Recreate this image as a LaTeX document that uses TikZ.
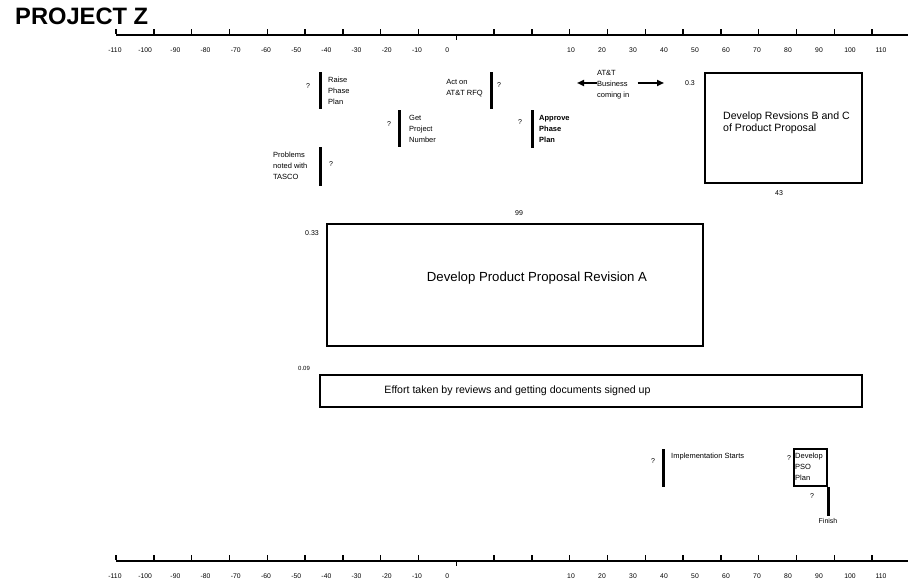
\documentclass[tikz,border=0pt]{standalone}
\usepackage{fontspec}
\setmainfont{Liberation Sans}
\usetikzlibrary{arrows.meta}

\begin{document}
\begin{tikzpicture}[
  x=1pt, y=1pt,
  axis/.style={line width=2pt},
  tickmark/.style={line width=1.4pt},
  bar/.style={fill=black, inner sep=0pt, minimum width=3pt},
  task/.style={draw, line width=2pt, inner sep=0pt},
  lbl/.style={font=\fontsize{7.5}{10.7}\selectfont, inner sep=0pt, align=left},
  num/.style={font=\fontsize{7}{8}\selectfont, inner sep=0pt},
  big/.style={font=\fontsize{10.6}{12}\selectfont, inner sep=0pt, align=left},
  arr/.style={line width=2.5pt, -{Triangle[length=7pt,width=6pt]}}
]
  \useasboundingbox (0,0) rectangle (908,-585);

  % title
  \node[anchor=west, inner sep=0pt, font=\fontsize{23.7}{26}\selectfont\bfseries] (title) at (15,-16.5) {PROJECT Z};

  % time axes, top and bottom
  \foreach \ay/\nm in {35/t, 561/b} {
    \draw[axis] (116,-\ay) -- (908,-\ay);
    \foreach \k in {0,...,20} {
      \ifnum\k=9
        \draw[tickmark] ({116+37.8*\k},-\ay) -- ++(0,-5);
      \else
        \draw[tickmark] ({116+37.8*\k},-\ay+1) -- ++(0,5);
      \fi
    }
    \foreach \v [count=\i from 0] in {-110,-100,...,0}
      \node[num, font=\fontsize{6.8}{8}\selectfont] (\nm l\i) at ({115+30.2*\i},-\ay-15.5) {\v};
    \foreach \v [count=\i from 0] in {10,20,...,110}
      \node[num, font=\fontsize{6.8}{8}\selectfont] (\nm r\i) at ({571+31*\i},-\ay-15.5) {\v};
  }

  % milestones
  \node[bar, minimum height=37pt] (raise) at (320,-90.5) {};
  \node[lbl, anchor=west] (raisetxt) at (328,-91) {Raise\\Phase\\Plan};
  \node[num] (raiseq) at (308,-86) {?};

  \node[bar, minimum height=37pt] (rfq) at (491,-90.5) {};
  \node[lbl, anchor=east] (rfqtxt) at (483,-88) {Act on\\AT\&T RFQ};
  \node[num] (rfqq) at (499,-85) {?};

  \node[bar, minimum height=37pt] (projnum) at (399,-128.5) {};
  \node[lbl, anchor=west] (projnumtxt) at (409,-129) {Get\\Project\\Number};
  \node[num] (projnumq) at (389,-124) {?};

  \node[bar, minimum height=38pt] (approve) at (532,-129) {};
  \node[lbl, anchor=west, font=\fontsize{7.5}{10.7}\selectfont\bfseries] (approvetxt) at (539,-129) {Approve\\Phase\\Plan};
  \node[num] (approveq) at (520,-122) {?};

  \node[bar, minimum height=39pt] (tasco) at (320,-166.5) {};
  \node[lbl, anchor=west] (tascotxt) at (273,-166) {Problems\\noted with\\TASCO};
  \node[num] (tascoq) at (331,-164) {?};

  % AT&T business
  \node[lbl, anchor=west] (att) at (597,-84.5) {AT\&T\\Business\\coming in};
  \coordinate (attl) at (577,-83);
  \coordinate (attr) at (664,-83);
  \draw[arr] ([yshift=1.5pt]att.west) -- (attl);
  \draw[arr] ([xshift=8pt,yshift=1.5pt]att.east) -- (attr);

  % revisions B and C
  \node[task, minimum width=157pt, minimum height=110pt] (revbc) at (783.5,-128) {};
  \node[big] (revbctxt) at ([xshift=3pt,yshift=5pt]revbc.center) {Develop Revsions B and C\\of Product Proposal};
  \node[num] (revbcw) at (690,-83) {0.3};
  \node[num] (revbcd) at (779,-193) {43};

  % revision A
  \node[task, minimum width=376pt, minimum height=122pt] (reva) at (515,-285) {};
  \node[big, font=\fontsize{13.2}{15}\selectfont] (revatxt) at ([xshift=22pt,yshift=7pt]reva.center) {Develop Product Proposal Revision A};
  \node[num] (revaw) at (312,-233) {0.33};
  \node[num] (revad) at (519,-213) {99};

  % reviews effort
  \node[task, minimum width=542pt, minimum height=32pt] (effort) at (591,-391) {};
  \node[big] (efforttxt) at ([xshift=-73.5pt]effort.center) {Effort taken by reviews and getting documents signed up};
  \node[num, font=\fontsize{6}{7}\selectfont] (effortw) at (304,-368) {0.09};

  % implementation
  \node[bar, minimum height=38pt] (impl) at (663,-468) {};
  \node[lbl, anchor=west] (impltxt) at (671,-457) {Implementation Starts};
  \node[num] (implq) at (653,-461) {?};

  % PSO plan
  \node[task, line width=2.5pt, minimum width=33pt, minimum height=37pt] (pso) at (810.5,-467.5) {};
  \node[lbl, anchor=west] (psotxt) at (795,-467) {Develop\\PSO\\Plan};
  \node[num] (psoq) at (789,-458) {?};

  % finish
  \node[bar, minimum height=29pt] (finish) at (828,-501) {};
  \node[num] (finishq) at (812,-496) {?};
  \node[num] (finishtxt) at (828,-521) {Finish};
\end{tikzpicture}
\end{document}
